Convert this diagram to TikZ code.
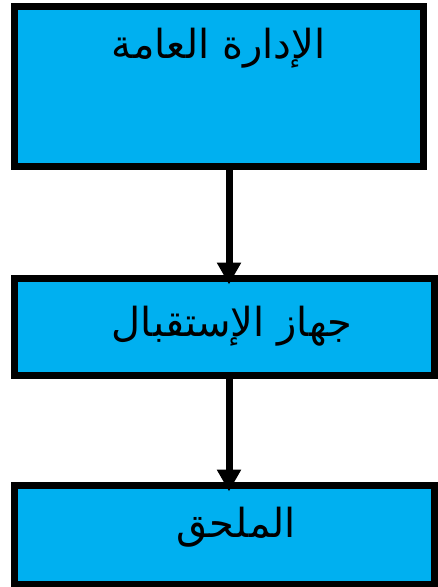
\documentclass[tikz,border=0pt]{standalone}
\usepackage{fontspec}
\newfontfamily\arabicfont[Script=Arabic]{DejaVu Sans}
\TeXXeTstate=1
\usepackage{tikz}
\usetikzlibrary{positioning, arrows.meta}
\definecolor{boxblue}{HTML}{00B0F0}
\tikzset{box/.style = {rectangle, draw=black, fill=boxblue, line width=7pt, inner sep=0pt,
                       font=\arabicfont\fontsize{40}{46}\selectfont}}
\tikzset{flow/.style = {-{Triangle[length=22pt, width=23pt]}, line width=7pt, shorten >=-10pt}}

\begin{document}
\begin{tikzpicture}[x=1pt, y=-1pt]
        \useasboundingbox (0, 0) rectangle (437, 587);

        \node [box, minimum width=409pt, minimum height=160pt, text height=52pt, text depth=108pt]
              (A) at (218.5, 86) {\beginR الإدارة العامة\endR};
        \node [box, minimum width=420pt, minimum height=97pt]
              (B) at (224, 326.5) {\hspace*{16pt}\beginR جهاز الإستقبال\endR};
        \node [box, minimum width=420pt, minimum height=99pt, text height=52pt, text depth=47pt]
              (C) at (224, 534.5) {\hspace*{24pt}\beginR الملحق\endR};

        \draw [flow] ([xshift=10.5pt]A.south) -- ([xshift=5pt]B.north);
        \draw [flow] ([xshift=5pt]B.south) -- ([xshift=5pt]C.north);
    \end{tikzpicture}
\end{document}
